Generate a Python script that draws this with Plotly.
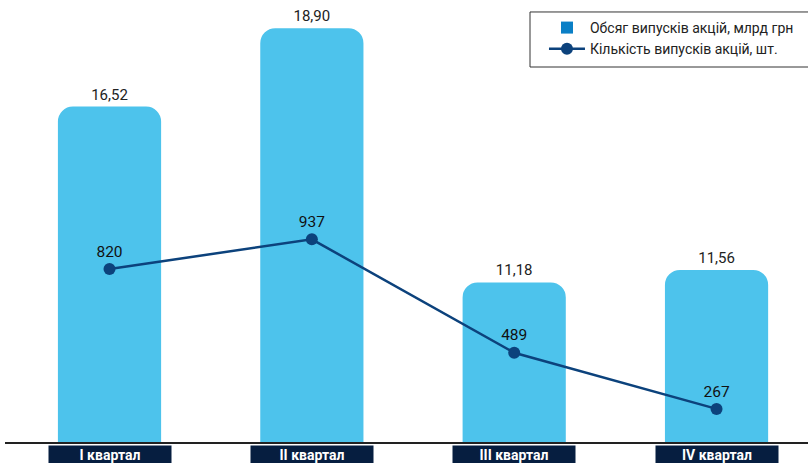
import plotly.graph_objects as go

categories = ["I квартал", "II квартал", "III квартал", "IV квартал"]
volume_bn = [16.52, 18.90, 11.18, 11.56]
issues_count = [820, 937, 489, 267]

bar_name = "Обсяг випусків акцій, млрд грн"
line_name = "Кількість випусків акцій, шт."

FONT = "Roboto, Liberation Sans, sans-serif"
BAR_COLOR = "#4dc3ec"
LEGEND_SQ = "#0a7fc6"
LINE_COLOR = "#0c427c"
NAVY = "#061e40"

x_idx = list(range(len(categories)))

fig = go.Figure()
fig.add_trace(go.Bar(
    x=x_idx, y=volume_bn, name=bar_name, showlegend=False,
    marker=dict(color=BAR_COLOR, line=dict(width=0)),
    width=0.51,
    texttemplate="%{y:.2f}", textposition="outside",
    textfont=dict(family=FONT, size=15, color="#222222"),
    cliponaxis=False,
))
# legend swatch for the bars (legend uses a darker blue square)
fig.add_trace(go.Scatter(
    x=[None], y=[None], mode="markers", name=bar_name,
    marker=dict(symbol="square", size=12, color=LEGEND_SQ),
))
fig.add_trace(go.Scatter(
    x=x_idx, y=issues_count, name=line_name, yaxis="y2",
    mode="lines+markers+text",
    line=dict(color=LINE_COLOR, width=2.5),
    marker=dict(color=LINE_COLOR, size=12),
    text=[str(v) for v in issues_count], textposition="top center",
    textfont=dict(family=FONT, size=15.5, color="#111111"),
    cliponaxis=False,
))

for i, c in enumerate(categories):
    fig.add_annotation(
        x=i, xref="x", y=0, yref="paper", yanchor="top", yshift=-3,
        text="<b>" + c + "</b>", showarrow=False,
        width=122, height=18, bgcolor=NAVY, borderpad=0,
        font=dict(family=FONT, size=14, color="white"),
    )

# legend frame
fig.add_shape(type="rect", xref="paper", yref="paper",
              x0=0.6538, x1=1.0025, y0=0.8484, y1=0.9729,
              line=dict(color="#333333", width=1), fillcolor="white",
              layer="above")

fig.update_layout(
    width=808, height=463,
    margin=dict(l=5, r=0, t=0, b=21, autoexpand=False),
    paper_bgcolor="white", plot_bgcolor="white",
    separators=", ",
    barcornerradius=15,
    font=dict(family=FONT, color="#222222"),
    xaxis=dict(range=[-0.5165, 3.452], showticklabels=False, ticks="",
               showgrid=False, zeroline=False,
               showline=True, linecolor="#222222", linewidth=1.5),
    yaxis=dict(range=[6.336, 19.754], visible=False, showgrid=False),
    yaxis2=dict(range=[136.3, 1882.7], overlaying="y", visible=False,
                showgrid=False),
    legend=dict(x=0.6712, y=0.9729, xanchor="left", yanchor="top",
                bgcolor="rgba(0,0,0,0)", borderwidth=0,
                font=dict(family=FONT, size=14, color="#222222"),
                itemwidth=36, tracegroupgap=0),
    showlegend=True,
)

fig.write_html("out.html",
               config={"displayModeBar": False},
               post_script="document.body.style.margin='0px';")
